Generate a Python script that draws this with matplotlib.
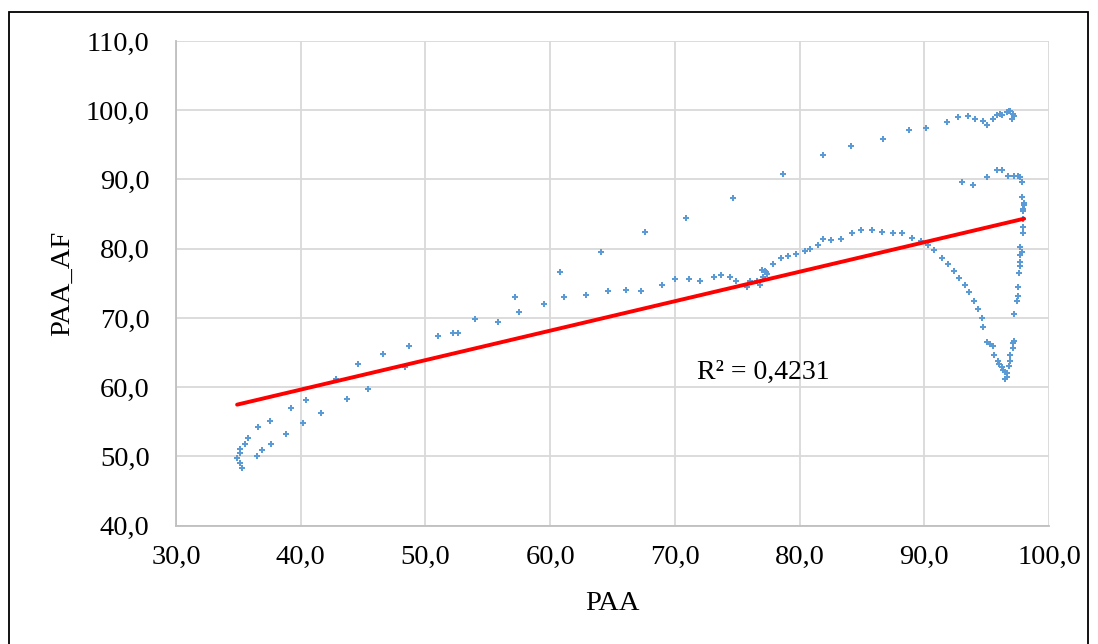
import matplotlib
matplotlib.use("Agg")
import matplotlib.pyplot as plt
from matplotlib.patches import Rectangle
from matplotlib.ticker import FuncFormatter
import numpy as np

plt.rcParams['font.family'] = ['Liberation Serif', 'DejaVu Serif']

# PAA values (x) and PAA_AF values (y)
paa = [
    35.3, 35.1, 34.9, 35.1, 35.1, 35.5, 35.8, 36.6, 37.5, 39.2, 40.4, 42.8, 44.6, 46.6, 48.7,
    36.5, 36.9, 37.6, 38.8, 40.2, 41.6, 43.7, 45.4, 48.4,
    51.0, 52.2, 52.6, 54.0, 55.8, 57.2, 57.5, 59.5, 60.8, 61.1, 62.9, 64.1, 64.6, 66.1, 67.3,
    67.6, 69.0, 70.0, 70.9, 71.1, 72.0, 73.1, 73.7, 74.4, 74.9, 75.8, 76.0, 76.6, 76.8, 77.1,
    77.2, 77.3, 77.4, 77.0, 77.9, 78.5, 79.1, 79.7, 80.4, 80.8, 81.5, 81.9, 82.5, 83.3, 84.2,
    84.9, 85.8, 86.6, 87.5, 88.2, 89.0, 89.7, 90.3, 90.8, 91.4, 91.9, 92.4, 92.8, 93.3, 93.6,
    94.0, 94.3, 94.6, 94.7, 95.0, 95.3, 95.5, 95.6, 95.9, 96.0, 96.2, 96.3, 96.5, 96.6, 96.5,
    96.6, 96.8, 96.9, 96.9, 97.1, 97.1, 97.2, 97.2, 97.4, 97.5, 97.5, 97.6, 97.7, 97.7, 97.7,
    97.8, 97.7, 97.9, 97.9, 97.9, 97.9, 97.9, 98.0, 98.0, 97.8,
    97.8, 97.7, 97.5, 97.2, 96.7, 96.2, 95.8, 95.0, 93.9, 93.0,
    74.7, 78.7, 81.9, 84.1, 86.7, 88.8, 90.1, 91.8, 92.7, 93.5, 94.1, 94.7, 95.0, 95.5, 95.8,
    96.1, 96.2, 96.6, 96.8, 96.9, 97.1, 97.0, 97.2,
]
paa_af = [
    48.4, 49.1, 49.8, 50.5, 51.1, 51.8, 52.7, 54.2, 55.1, 57.0, 58.2, 61.2, 63.4, 64.8, 66.0,
    50.0, 51.0, 51.8, 53.2, 54.9, 56.3, 58.3, 59.8, 62.9,
    67.4, 67.9, 67.9, 69.8, 69.4, 73.1, 70.8, 72.0, 76.6, 73.0, 73.3, 79.5, 73.9, 74.1, 73.9,
    82.4, 74.7, 75.6, 84.5, 75.7, 75.4, 75.9, 76.2, 75.9, 75.3, 74.5, 75.4, 75.4, 74.7, 75.9,
    76.8, 76.7, 76.4, 77.0, 77.8, 78.7, 79.0, 79.2, 79.7, 79.9, 80.6, 81.4, 81.2, 81.4, 82.2,
    82.7, 82.7, 82.4, 82.3, 82.2, 81.5, 81.1, 80.5, 79.8, 78.7, 77.8, 76.8, 75.8, 74.7, 73.7,
    72.4, 71.3, 70.0, 68.7, 66.6, 66.2, 65.9, 64.7, 63.8, 63.3, 62.9, 62.5, 62.2, 61.5, 61.2,
    62.1, 63.0, 63.8, 64.6, 65.6, 66.4, 66.7, 70.6, 72.5, 73.2, 74.5, 76.5, 77.5, 78.1, 79.1,
    79.5, 80.3, 82.3, 83.2, 84.3, 85.5, 85.8, 86.3, 86.6, 87.4,
    89.6, 90.3, 90.5, 90.5, 90.5, 91.3, 91.4, 90.4, 89.2, 89.6,
    87.3, 90.8, 93.5, 94.8, 95.9, 97.1, 97.5, 98.3, 99.0, 99.2, 98.8, 98.4, 97.9, 98.8, 99.3,
    99.5, 99.3, 99.7, 99.9, 99.9, 99.5, 98.7, 99.1,
]

# linear trendline
trend_slope = 0.4256
trend_intercept = 42.63
r2_label = "R² = 0,4231"

x_ticks = [30, 40, 50, 60, 70, 80, 90, 100]
y_ticks = [40, 50, 60, 70, 80, 90, 100, 110]

fig = plt.figure(figsize=(10.98, 6.44), dpi=100)
ax = fig.add_axes([176 / 1098, 1 - 525.7 / 644, (1049 - 176) / 1098, (525.7 - 41) / 644])

ax.scatter(paa, paa_af, marker='P', s=22, color='#5B9BD5', linewidths=0, zorder=3)

xs = np.array([min(paa), max(paa)])
ax.plot(xs, trend_slope * xs + trend_intercept, color='#FF0000', lw=2.8, zorder=4,
        solid_capstyle='round')
ax.text(71.8, 62.2, r2_label, fontsize=20, ha='left', va='center')

ax.set_xlim(30, 100)
ax.set_ylim(40, 110)
ax.set_xticks(x_ticks)
ax.set_yticks(y_ticks)
fmt = FuncFormatter(lambda v, p: f"{v:.1f}".replace('.', ','))
ax.xaxis.set_major_formatter(fmt)
ax.yaxis.set_major_formatter(fmt)
ax.tick_params(axis='both', length=0, labelsize=20.5)
ax.tick_params(axis='x', pad=14)
ax.tick_params(axis='y', pad=19)
ax.grid(True, color='#D9D9D9', lw=1.3, zorder=0)
ax.set_axisbelow(True)
for side in ['top', 'right']:
    ax.spines[side].set_visible(False)
for side in ['left', 'bottom']:
    ax.spines[side].set_color('#BFBFBF')
    ax.spines[side].set_linewidth(1.3)

ax.set_xlabel("PAA", fontsize=20.5, labelpad=15)
ax.set_ylabel("PAA_AF", fontsize=20.5, labelpad=8)

# outer frame of the chart area
fig.patches.append(Rectangle((9 / 1098, -0.02), (1088 - 9) / 1098, 1.02 - 12 / 644,
                             transform=fig.transFigure, fill=False, edgecolor='black', lw=1.3))

fig.savefig("out.png", dpi=100)
